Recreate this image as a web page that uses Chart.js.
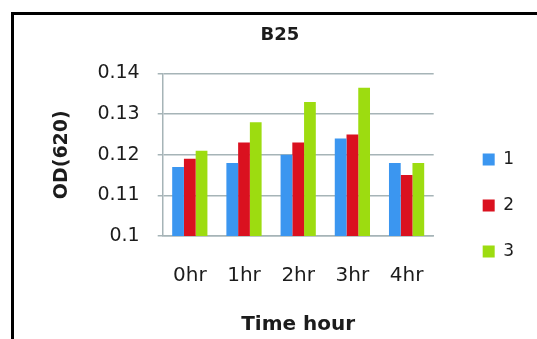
<!DOCTYPE html>
<html>
<head>
<meta charset="utf-8">
<script src="https://cdn.jsdelivr.net/npm/chart.js@4/dist/chart.umd.min.js"></script>
<style>
  html, body { margin: 0; padding: 0; background: #fff; overflow: hidden; }
  body { width: 537px; height: 339px; position: relative; }
  #frame {
    position: absolute; left: 11px; top: 12px;
    width: 700px; height: 500px;
    border-left: 3px solid #000; border-top: 3px solid #000;
  }
  #chart { position: absolute; left: 0; top: 0; }
</style>
</head>
<body>
<div id="frame"></div>
<canvas id="chart" width="537" height="339"></canvas>
<script>
// Time points on the x axis
const timePoints = ['0hr', '1hr', '2hr', '3hr', '4hr'];
// OD(620) readings for the three replicates
const replicate1 = [0.117, 0.118, 0.120, 0.124, 0.118];
const replicate2 = [0.119, 0.123, 0.123, 0.125, 0.115];
const replicate3 = [0.121, 0.128, 0.133, 0.1365, 0.118];
const replicateNames = ['1', '2', '3'];
// Y axis tick values
const odTicks = [0.1, 0.11, 0.12, 0.13, 0.14];

const barColors = ['#3b96f0', '#da111f', '#9ddc10'];
const gridColor = '#a6b4b7';
const textColor = '#1c1c1c';

Chart.defaults.font.family = "'DejaVu Sans', sans-serif";
Chart.defaults.color = textColor;

// Moves the legend block into place beside the plot
const legendNudge = {
  id: 'legendNudge',
  afterLayout(chart, args, opts) {
    const lg = chart.legend;
    if (!lg) return;
    lg.left += opts.dx; lg.right += opts.dx;
    lg.top += opts.dy; lg.bottom += opts.dy;
  }
};

new Chart(document.getElementById('chart'), {
  type: 'bar',
  data: {
    labels: timePoints,
    datasets: [replicate1, replicate2, replicate3].map((vals, i) => ({
      label: replicateNames[i],
      data: vals,
      backgroundColor: barColors[i],
      borderWidth: 0,
      barPercentage: 1.0,
      categoryPercentage: 0.65
    }))
  },
  plugins: [legendNudge],
  options: {
    responsive: false,
    animation: false,
    devicePixelRatio: 1,
    layout: { padding: { left: 56, right: 33, top: 0, bottom: 0 } },
    plugins: {
      title: {
        display: true,
        text: 'B25',
        font: { size: 18, weight: 'bold' },
        color: textColor,
        padding: { top: 24.5, bottom: 27.4 }
      },
      legend: {
        position: 'right',
        labels: {
          boxWidth: 12,
          boxHeight: 12,
          padding: 29,
          font: { size: 17 },
          color: textColor
        }
      },
      legendNudge: { dx: 20, dy: 36 },
      tooltip: { enabled: false }
    },
    scales: {
      x: {
        grid: { display: false, drawTicks: false },
        border: { display: true, color: gridColor, width: 1.5 },
        ticks: { font: { size: 20 }, color: textColor, padding: 28 },
        title: {
          display: true,
          text: 'Time hour',
          font: { size: 20, weight: 'bold', lineHeight: 0.9 },
          color: textColor,
          padding: { top: 0, bottom: 5 }
        }
      },
      y: {
        min: 0.1,
        max: 0.14,
        afterBuildTicks(scale) {
          scale.ticks = odTicks.map(v => ({ value: v }));
        },
        grid: { color: gridColor, lineWidth: 1.5, tickLength: 5 },
        border: { display: true, color: gridColor, width: 1.5 },
        ticks: {
          font: { size: 19 },
          color: textColor,
          padding: 18,
          callback: v => String(Number(v.toFixed(3)))
        },
        title: {
          display: true,
          text: 'OD(620)',
          font: { size: 19, weight: 'bold', lineHeight: 0.6 },
          color: textColor,
          padding: { top: 0, bottom: 12 }
        }
      }
    }
  }
});
</script>
</body>
</html>
